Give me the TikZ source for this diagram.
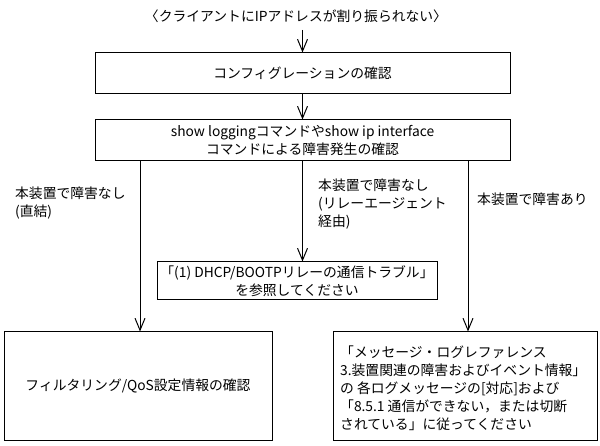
\documentclass[tikz,border=0pt]{standalone}
\usepackage{fontspec}
\setmainfont{Noto Sans CJK JP}
\usetikzlibrary{arrows.meta}
\begin{document}
\begin{tikzpicture}[x=1pt,y=-1pt,
  font=\fontsize{13.8}{18}\selectfont,
  box/.style={draw, line width=1pt, inner sep=0pt, align=center},
  arr/.style={line width=1pt, -{Straight Barb[length=12pt,width=10pt]}},
  lbl/.style={anchor=west, inner sep=0pt, align=left}]
\useasboundingbox (0,0) rectangle (600,446);
\node[inner sep=0pt] (t) at (296,16) {〈クライアントにIPアドレスが割り振られない〉};
\node[box, minimum width=415pt, minimum height=41pt] (b1) at (302.5,73.5) {コンフィグレーションの確認};
\node[box, minimum width=415pt, minimum height=41pt] (b2) at (302.5,140.5) {show loggingコマンドやshow ip interface\\コマンドによる障害発生の確認};
\node[box, minimum width=280pt, minimum height=38pt] (d) at (297,281) {「(1) DHCP/BOOTPリレーの通信トラブル」\\を参照してください};
\node[box, minimum width=268pt, minimum height=108pt] (l) at (138,386) {フィルタリング/QoS設定情報の確認};
\node[box, minimum width=264pt, minimum height=108pt] (r) at (465,386) {};
\node[lbl] (rt) at (340,388) {「メッセージ・ログレファレンス\\3.装置関連の障害およびイベント情報」\\の 各ログメッセージの[対応]および\\「8.5.1 通信ができない，または切断\\されている」に従ってください};
\node[lbl] (ll) at (15,203) {本装置で障害なし\\(直結)};
\node[lbl] (ml) at (318,204) {本装置で障害なし\\(リレーエージェント\\経由)};
\node[lbl] (rl) at (477,199) {本装置で障害あり};
\draw[arr] (b1.north |- 0,30) -- (b1.north);
\draw[arr] (b1.south) -- (b2.north);
\draw[arr] (b2.south) -- (b2.south |- d.north);
\draw[arr] (b2.south -| 140,0) -- (l.north -| 140,0);
\draw[arr] (b2.south -| 468,0) -- (r.north -| 468,0);
\end{tikzpicture}
\end{document}
